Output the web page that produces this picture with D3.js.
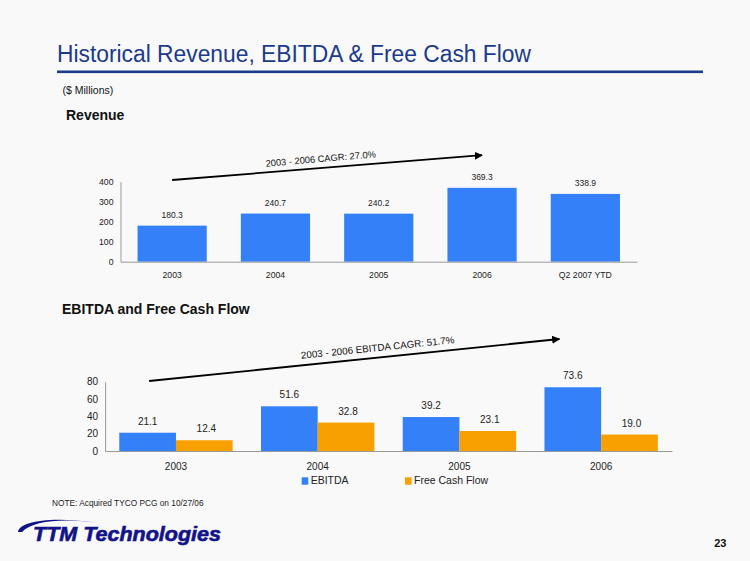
<!DOCTYPE html>
<html>
<head>
<meta charset="utf-8">
<script src="https://cdn.jsdelivr.net/npm/d3@7"></script>
<style>
  html, body { margin: 0; padding: 0; background: #f9f9f9; }
  svg { display: block; font-family: "Liberation Sans", Arial, sans-serif; }
</style>
</head>
<body>
<svg id="chart" width="750" height="561"></svg>
<script>
// ---- data ----
const revCategories = ["2003", "2004", "2005", "2006", "Q2 2007 YTD"];
const revValues = [180.3, 240.7, 240.2, 369.3, 338.9];
const revTicks = [0, 100, 200, 300, 400];

const ebCategories = ["2003", "2004", "2005", "2006"];
const seriesNames = ["EBITDA", "Free Cash Flow"];
const ebitdaValues = [21.1, 51.6, 39.2, 73.6];
const fcfValues = [12.4, 32.8, 23.1, 19.0];
const ebTicks = [0, 20, 40, 60, 80];

const revCagrLabel = "2003 - 2006 CAGR: 27.0%";
const ebCagrLabel = "2003 - 2006 EBITDA CAGR: 51.7%";

const BLUE = "#3380f8";
const ORANGE = "#f8a000";
const NAVY = "#1b3a8c";
const AXIS = "#9a9a9a";

const svg = d3.select("#chart");
svg.append("rect").attr("width", 750).attr("height", 561).attr("fill", "#f9f9f9");

// arrowhead marker
svg.append("defs").append("marker")
  .attr("id", "ah").attr("viewBox", "0 0 10 10").attr("refX", 9).attr("refY", 5)
  .attr("markerWidth", 4.5).attr("markerHeight", 4.5).attr("orient", "auto")
  .append("path").attr("d", "M0,0 L10,5 L0,10 z").attr("fill", "#000");

// ---- header ----
svg.append("text").attr("x", 57).attr("y", 62)
  .attr("font-size", 23).attr("fill", NAVY).attr("textLength", 474).attr("lengthAdjust", "spacingAndGlyphs")
  .text("Historical Revenue, EBITDA & Free Cash Flow");
svg.append("rect").attr("x", 57).attr("y", 70.5).attr("width", 646).attr("height", 2.6).attr("fill", NAVY);
svg.append("text").attr("x", 62.5).attr("y", 94).attr("font-size", 10.5).attr("fill", "#111").text("($ Millions)");
svg.append("text").attr("x", 66).attr("y", 119.5).attr("font-size", 14).attr("font-weight", "bold").attr("fill", "#111").text("Revenue");
svg.append("text").attr("x", 62).attr("y", 314).attr("font-size", 14).attr("font-weight", "bold").attr("fill", "#111").text("EBITDA and Free Cash Flow");

// ---- Revenue chart ----
const xRev = d3.scaleBand().domain(revCategories).range([120.5, 637]).paddingInner(0.33).paddingOuter(0.165);
const yRev = d3.scaleLinear().domain([0, 400]).range([261.7, 181.7]);

const gRev = svg.append("g");
gRev.selectAll("rect.bar").data(revValues).join("rect").attr("class", "bar")
  .attr("x", (d, i) => xRev(revCategories[i]))
  .attr("y", d => yRev(d))
  .attr("width", xRev.bandwidth())
  .attr("height", d => yRev(0) - yRev(d))
  .attr("fill", BLUE);
gRev.selectAll("text.val").data(revValues).join("text").attr("class", "val")
  .attr("x", (d, i) => xRev(revCategories[i]) + xRev.bandwidth() / 2)
  .attr("y", d => yRev(d) - 8)
  .attr("text-anchor", "middle").attr("font-size", 8.5).attr("fill", "#222")
  .text(d => d.toFixed(1));

const yAxisRev = gRev.append("g").attr("transform", `translate(${xRev.range()[0]},0)`)
  .call(d3.axisLeft(yRev).tickValues(revTicks).tickSize(0).tickPadding(7).tickFormat(d3.format("d")));
const xAxisRev = gRev.append("g").attr("transform", `translate(0,${yRev(0)})`)
  .call(d3.axisBottom(xRev).tickSize(0).tickPadding(10));
[yAxisRev, xAxisRev].forEach(a => {
  a.select(".domain").attr("stroke", AXIS).attr("stroke-width", 1);
  a.selectAll("text").attr("font-size", 8.7).attr("fill", "#222").attr("font-family", "Liberation Sans, Arial, sans-serif");
});

// CAGR arrow (revenue)
const ra = { x1: xRev("2003") + xRev.bandwidth() / 2, y1: yRev(0) - 81.7, x2: xRev("2006") + xRev.bandwidth() / 2, y2: yRev(0) - 106.5 };
gRev.append("line").attr("x1", ra.x1).attr("y1", ra.y1).attr("x2", ra.x2).attr("y2", ra.y2)
  .attr("stroke", "#000").attr("stroke-width", 1.8).attr("marker-end", "url(#ah)");
const raAng = Math.atan2(ra.y2 - ra.y1, ra.x2 - ra.x1) * 180 / Math.PI;
gRev.append("text").attr("transform", `translate(${321},${162}) rotate(${raAng - 0.3})`)
  .attr("text-anchor", "middle").attr("font-size", 9.3).attr("fill", "#111").text(revCagrLabel);

// ---- EBITDA / FCF chart ----
const x0 = d3.scaleBand().domain(ebCategories).range([105.1, 672]).paddingInner(0.2).paddingOuter(0.1);
const x1 = d3.scaleBand().domain(seriesNames).range([0, x0.bandwidth()]).padding(0);
const yEb = d3.scaleLinear().domain([0, 80]).range([451, 381.7]);
const color = d3.scaleOrdinal().domain(seriesNames).range([BLUE, ORANGE]);

const rows = ebCategories.map((c, i) => ({ cat: c, vals: [
  { key: seriesNames[0], v: ebitdaValues[i] },
  { key: seriesNames[1], v: fcfValues[i] }
]}));

const gEb = svg.append("g");
const grp = gEb.selectAll("g.grp").data(rows).join("g").attr("class", "grp")
  .attr("transform", d => `translate(${x0(d.cat)},0)`);
grp.selectAll("rect").data(d => d.vals).join("rect")
  .attr("x", d => x1(d.key)).attr("y", d => yEb(d.v))
  .attr("width", x1.bandwidth()).attr("height", d => yEb(0) - yEb(d.v))
  .attr("fill", d => color(d.key));
grp.selectAll("text").data(d => d.vals).join("text")
  .attr("x", (d, i) => x1(d.key) + x1.bandwidth() / 2 + (i === 1 ? 2 : 0))
  .attr("y", d => yEb(d.v) - 8)
  .attr("text-anchor", "middle").attr("font-size", 10).attr("fill", "#222")
  .text(d => d.v.toFixed(1));

const yAxisEb = gEb.append("g").attr("transform", `translate(${x0.range()[0]},0)`)
  .call(d3.axisLeft(yEb).tickValues(ebTicks).tickSize(0).tickPadding(7).tickFormat(d3.format("d")));
const xAxisEb = gEb.append("g").attr("transform", `translate(0,${yEb(0)})`)
  .call(d3.axisBottom(x0).tickSize(0).tickPadding(12));
[yAxisEb, xAxisEb].forEach(a => {
  a.select(".domain").attr("stroke", AXIS).attr("stroke-width", 1);
  a.selectAll("text").attr("font-size", 10).attr("fill", "#222").attr("font-family", "Liberation Sans, Arial, sans-serif");
});

// CAGR arrow (EBITDA)
const ea = { x1: x0("2003") + x1("EBITDA") + x1.bandwidth() / 2 + 1.5, y1: yEb(80) - 0.7, x2: x0("2006") + 15, y2: yEb(80) - 42.7 };
gEb.append("line").attr("x1", ea.x1).attr("y1", ea.y1).attr("x2", ea.x2).attr("y2", ea.y2)
  .attr("stroke", "#000").attr("stroke-width", 1.8).attr("marker-end", "url(#ah)");
const eaAng = Math.atan2(ea.y2 - ea.y1, ea.x2 - ea.x1) * 180 / Math.PI;
gEb.append("text").attr("transform", `translate(${378},${351}) rotate(${eaAng})`)
  .attr("text-anchor", "middle").attr("font-size", 9.8).attr("fill", "#111").text(ebCagrLabel);

// legend
const legendX = [301.7, 405];
const lg = gEb.selectAll("g.lg").data(seriesNames).join("g").attr("class", "lg")
  .attr("transform", (d, i) => `translate(${legendX[i]},477.3)`);
lg.append("rect").attr("width", 6.6).attr("height", 7.4).attr("fill", d => color(d));
lg.append("text").attr("x", 9).attr("y", 7).attr("font-size", 10.5).attr("fill", "#222").text(d => d);

// ---- footer ----
svg.append("text").attr("x", 52).attr("y", 505.5).attr("font-size", 8.3).attr("fill", "#222")
  .text("NOTE: Acquired TYCO PCG on 10/27/06");

// logo
svg.append("path")
  .attr("d", "M18,532 C19,522 48,516 95,522.5 C62,518 32,521 22,532 Z")
  .attr("fill", "#12128a");
svg.append("text").attr("x", 33).attr("y", 541)
  .attr("font-size", 20).attr("font-weight", "bold").attr("font-style", "italic")
  .attr("fill", "#12128a").attr("stroke", "#12128a").attr("stroke-width", 0.6)
  .attr("textLength", 188).attr("lengthAdjust", "spacingAndGlyphs")
  .text("TTM Technologies");

svg.append("text").attr("x", 726.5).attr("y", 547).attr("text-anchor", "end")
  .attr("font-size", 11).attr("font-weight", "bold").attr("fill", "#111").text("23");
</script>
</body>
</html>
